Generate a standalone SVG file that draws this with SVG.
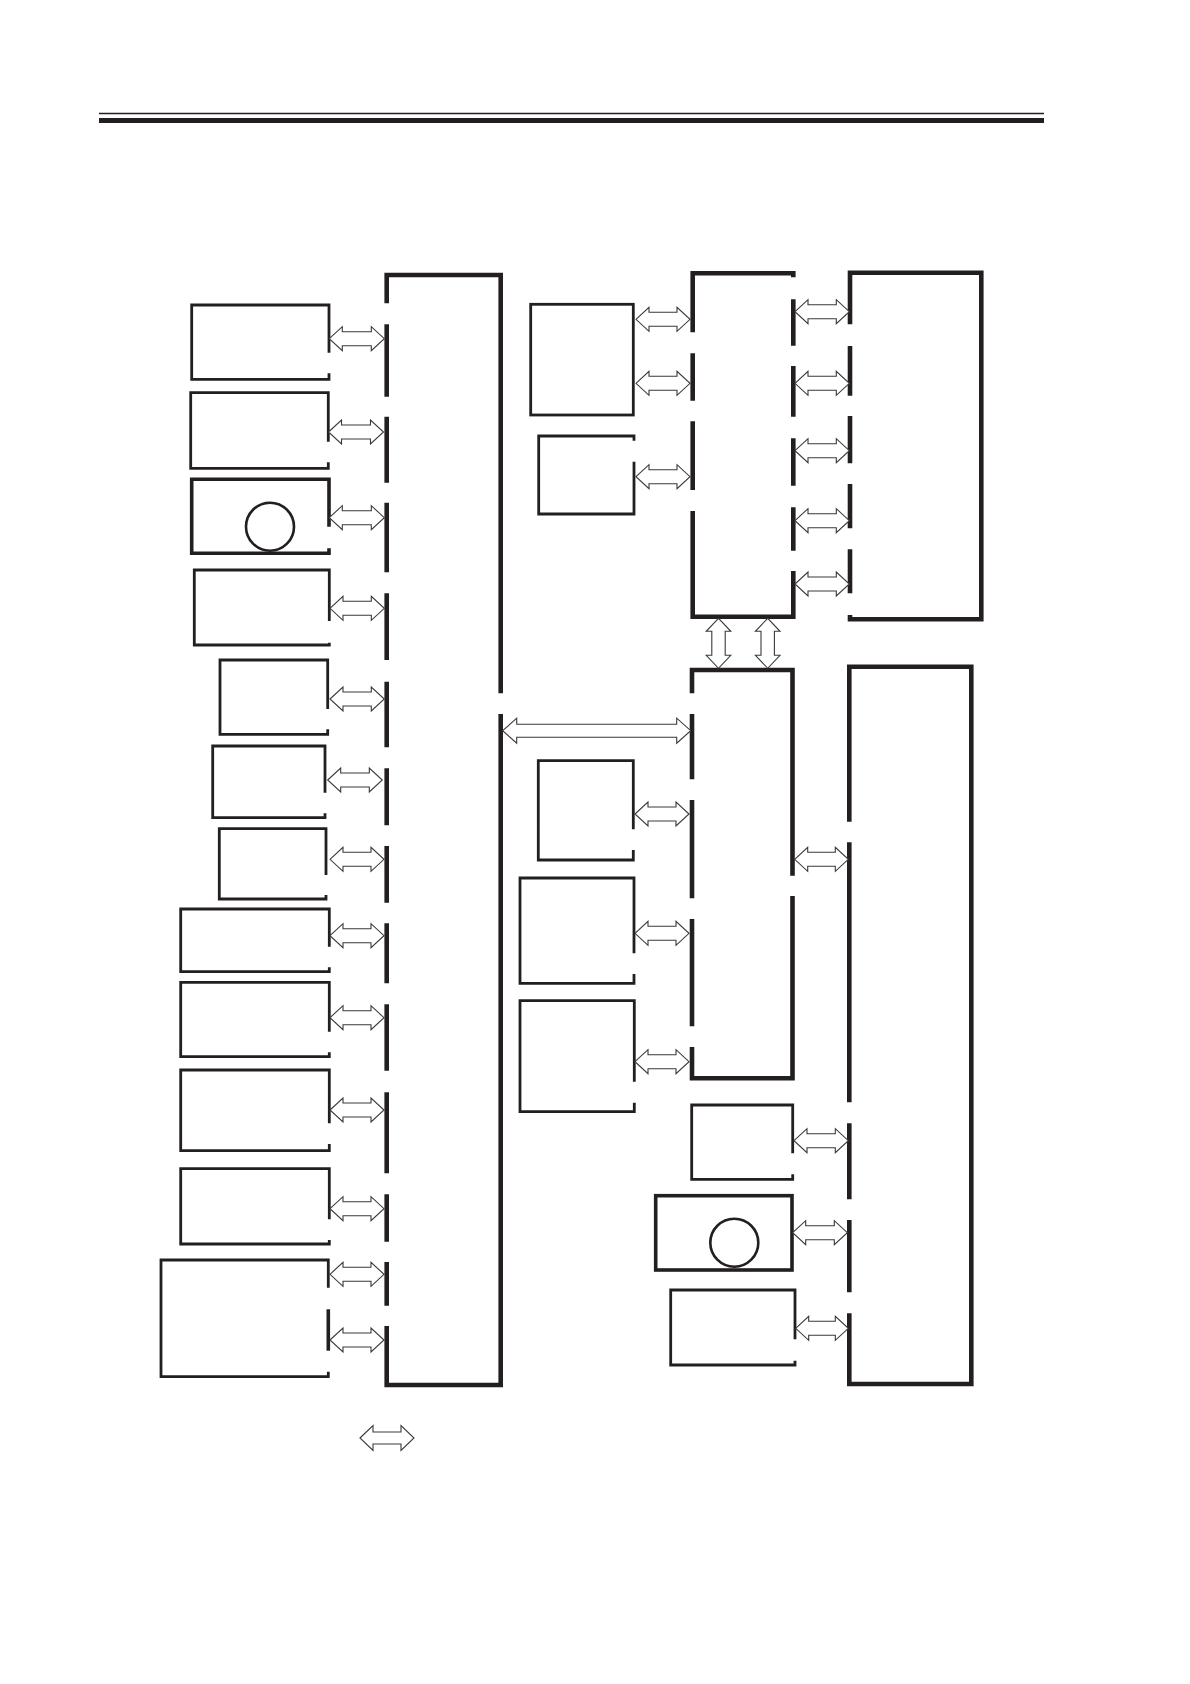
<svg xmlns="http://www.w3.org/2000/svg" width="1190" height="1684" viewBox="0 0 1190 1684">
<style>
.hub{fill:none;stroke:#231f20;stroke-width:4.6;stroke-linecap:butt;stroke-linejoin:miter}
.box{fill:none;stroke:#231f20;stroke-width:2.8;stroke-linejoin:miter}
.boxb{fill:none;stroke:#231f20;stroke-width:3.6;stroke-linejoin:miter}
.circ{fill:none;stroke:#231f20;stroke-width:2.6}
.arr{fill:#fff;stroke:#3a3a3a;stroke-width:1.1;stroke-linejoin:miter}
.rule{stroke:#231f20}
</style>
<rect width="1190" height="1684" fill="#fff"/>
<g id="header">
<line class="rule" x1="99" y1="113.5" x2="1044" y2="113.5" stroke-width="1.6"/>
<line class="rule" x1="99" y1="120.5" x2="1044" y2="120.5" stroke-width="5"/>
</g>
<g id="main-bus">
<path class="hub" d="M386.7,303.3 V275 H500.7 V693.3 M500.7,714 V1385 H386.7 V1326 M386.7,324.3 V396.7 M386.7,416.7 V482.7 M386.7,502.7 V572.3 M386.7,593.3 V660 M386.7,681.7 V747.3 M386.7,768.3 V825.3 M386.7,846 V902.7 M386.7,923.3 V983.3 M386.7,1004.3 V1070.7 M386.7,1092.3 V1173.3 M386.7,1194.3 V1241.7 M386.7,1262 V1305.7"/>
</g>
<g id="box1"><path class="box" d="M329,352.7 V305 H191.7 V379.3 H329 V373.3"/></g>
<g id="box2"><path class="box" d="M328.3,441.7 V392.7 H190.7 V468.3 H328.3 V462.3"/></g>
<g id="box3"><path class="boxb" d="M329,526.7 V479.3 H191.7 V553.3 H329 V548.3"/><circle class="circ" cx="270" cy="526.7" r="24"/></g>
<g id="box4"><path class="box" d="M329.3,621 V570 H194.3 V645 H329.3 V642.7"/></g>
<g id="box5"><path class="box" d="M327.7,709 V660 H220 V734.3 H327.7 V729.3"/></g>
<g id="box6"><path class="box" d="M325,792.7 V746 H212.7 V817.7 H325 V813.3"/></g>
<g id="box7"><path class="box" d="M326,875 V828.7 H219.3 V899 H326 V895"/></g>
<g id="box8"><path class="box" d="M329.3,946.7 V909 H180.7 V971.7 H329.3 V967.3"/></g>
<g id="box9"><path class="box" d="M329.3,1031.7 V982.3 H180.7 V1056.7 H329.3 V1052.3"/></g>
<g id="box10"><path class="box" d="M329.3,1123.3 V1070 H180.7 V1150.7 H329.3 V1144"/></g>
<g id="box11"><path class="box" d="M329.3,1219.3 V1168.7 H180.7 V1244 H329.3 V1240"/></g>
<g id="box12"><path class="box" d="M328.3,1287.7 V1260 H161 V1376.7 H328.3 V1371.7"/><path class="boxb" d="M328.3,1309.3 V1350.7"/></g>
<g id="boxA"><rect class="box" x="530.7" y="304.3" width="102.6" height="110.7"/></g>
<g id="boxB"><path class="box" d="M634,440.7 V436 H538.7 V514 H634 V461.7"/></g>
<g id="hub2">
<path class="hub" d="M692.7,332.3 V273.3 H793.3 V277.3 M692.7,353.3 V400.7 M692.7,421.3 V490 M692.7,511 V616.7 H793.3 V571 M793.3,299.3 V345.7 M793.3,366 V416.7 M793.3,438.3 V485.7 M793.3,507.3 V550.7"/>
</g>
<g id="top-right">
<path class="hub" d="M850,324.3 V272.7 H981.3 V619.3 H850 V615 M850,346 V395.7 M850,416 V463.3 M850,484 V528.3 M850,549.3 V593.3"/>
</g>
<g id="hub3">
<path class="hub" d="M692,693.3 V670 H792.5 V875.7 M792.5,896 V1078.3 H692 V1047 M692,714 V779.3 M692,800 V898.3 M692,919 V1026.3"/>
</g>
<g id="boxC"><path class="box" d="M633.3,829.3 V760.7 H538.3 V860 H633.3 V850"/></g>
<g id="boxD"><path class="box" d="M634,953.3 V878 H520 V983.3 H634 V974"/></g>
<g id="boxE"><path class="box" d="M634.3,1081.7 V1000.7 H520 V1111.7 H634.3 V1102.7"/></g>
<g id="right-bottom">
<path class="hub" d="M849.3,821.7 V666.7 H971.3 V1384 H849.3 V1313.3 M849.3,842.3 V1102.3 M849.3,1123.3 V1199.3 M849.3,1220 V1292.3"/>
</g>
<g id="boxF"><path class="box" d="M792.7,1153.3 V1105 H691.7 V1179.3 H792.7 V1174.3"/></g>
<g id="boxG"><rect class="boxb" x="655.7" y="1195.7" width="136.3" height="74.3"/><circle class="circ" cx="734.3" cy="1242.7" r="24"/></g>
<g id="boxH"><path class="box" d="M795,1339.3 V1290 H670.7 V1365 H795 V1360.7"/></g>
<g id="connectors">
<path class="arr" d="M329.3,338.7 l13,-12 v5 h29 v-5 l13,12 l-13,12 v-5 h-29 v5 z"/>
<path class="arr" d="M328.5,432 l13,-12 v5 h29 v-5 l13,12 l-13,12 v-5 h-29 v5 z"/>
<path class="arr" d="M329.3,517.7 l13,-12 v5 h29 v-5 l13,12 l-13,12 v-5 h-29 v5 z"/>
<path class="arr" d="M330,608.3 l13,-12 v5 h28.3 v-5 l13,12 l-13,12 v-5 h-28.3 v5 z"/>
<path class="arr" d="M330,699 l13,-12 v5 h28.3 v-5 l13,12 l-13,12 v-5 h-28.3 v5 z"/>
<path class="arr" d="M327.7,780 l13,-12 v5 h28.6 v-5 l13,12 l-13,12 v-5 h-28.6 v5 z"/>
<path class="arr" d="M330,859.3 l13,-12 v5 h28 v-5 l13,12 l-13,12 v-5 h-28 v5 z"/>
<path class="arr" d="M330,935.7 l13,-12 v5 h28 v-5 l13,12 l-13,12 v-5 h-28 v5 z"/>
<path class="arr" d="M330,1017.7 l13,-12 v5 h28 v-5 l13,12 l-13,12 v-5 h-28 v5 z"/>
<path class="arr" d="M330,1110 l13,-12 v5 h28 v-5 l13,12 l-13,12 v-5 h-28 v5 z"/>
<path class="arr" d="M330,1208.7 l13,-12 v5 h28 v-5 l13,12 l-13,12 v-5 h-28 v5 z"/>
<path class="arr" d="M330,1274.3 l13,-12 v5 h28 v-5 l13,12 l-13,12 v-5 h-28 v5 z"/>
<path class="arr" d="M330,1340 l13,-12 v5 h28 v-5 l13,12 l-13,12 v-5 h-28 v5 z"/>
<path class="arr" d="M636,319.3 l13,-12 v5 h28 v-5 l13,12 l-13,12 v-5 h-28 v5 z"/>
<path class="arr" d="M636,383.3 l13,-12 v5 h28 v-5 l13,12 l-13,12 v-5 h-28 v5 z"/>
<path class="arr" d="M636,476.7 l13,-12 v5 h28 v-5 l13,12 l-13,12 v-5 h-28 v5 z"/>
<path class="arr" d="M795,311.7 l13,-12 v5 h28.3 v-5 l13,12 l-13,12 v-5 h-28.3 v5 z"/>
<path class="arr" d="M795,383.3 l13,-12 v5 h28.3 v-5 l13,12 l-13,12 v-5 h-28.3 v5 z"/>
<path class="arr" d="M795,450.7 l13,-12 v5 h28.3 v-5 l13,12 l-13,12 v-5 h-28.3 v5 z"/>
<path class="arr" d="M795,520.7 l13,-12 v5 h28.3 v-5 l13,12 l-13,12 v-5 h-28.3 v5 z"/>
<path class="arr" d="M795,584 l13,-12 v5 h28.3 v-5 l13,12 l-13,12 v-5 h-28.3 v5 z"/>
<path class="arr" d="M502.7,730.7 l14,-12.5 v6 h160 v-6 l14,12.5 l-14,12.5 v-6 h-160 v6 z"/>
<path class="arr" d="M718.5,618.3 l-12.3,13 h5.6 v24 h-5.6 l12.3,13 l12.3,-13 h-5.6 v-24 h5.6 z"/>
<path class="arr" d="M767.7,618.3 l-12.3,13 h5.6 v24 h-5.6 l12.3,13 l12.3,-13 h-5.6 v-24 h5.6 z"/>
<path class="arr" d="M635,814 l13,-12 v5 h28 v-5 l13,12 l-13,12 v-5 h-28 v5 z"/>
<path class="arr" d="M635,933.3 l13,-12 v5 h28 v-5 l13,12 l-13,12 v-5 h-28 v5 z"/>
<path class="arr" d="M635,1061.7 l13,-12 v5 h28 v-5 l13,12 l-13,12 v-5 h-28 v5 z"/>
<path class="arr" d="M794.7,859.3 l13,-12 v5 h27.6 v-5 l13,12 l-13,12 v-5 h-27.6 v5 z"/>
<path class="arr" d="M794,1140.7 l13,-12 v5 h28.3 v-5 l13,12 l-13,12 v-5 h-28.3 v5 z"/>
<path class="arr" d="M792.7,1232.7 l13,-12 v5 h28.6 v-5 l13,12 l-13,12 v-5 h-28.6 v5 z"/>
<path class="arr" d="M795.7,1328.3 l13,-12 v5 h26.6 v-5 l13,12 l-13,12 v-5 h-26.6 v5 z"/>
</g>
<g id="legend">
<path class="arr" d="M360,1438 l13,-12.5 v6.5 h28 v-6.5 l13,12.5 l-13,12.5 v-6.5 h-28 v6.5 z"/>
</g>
</svg>
